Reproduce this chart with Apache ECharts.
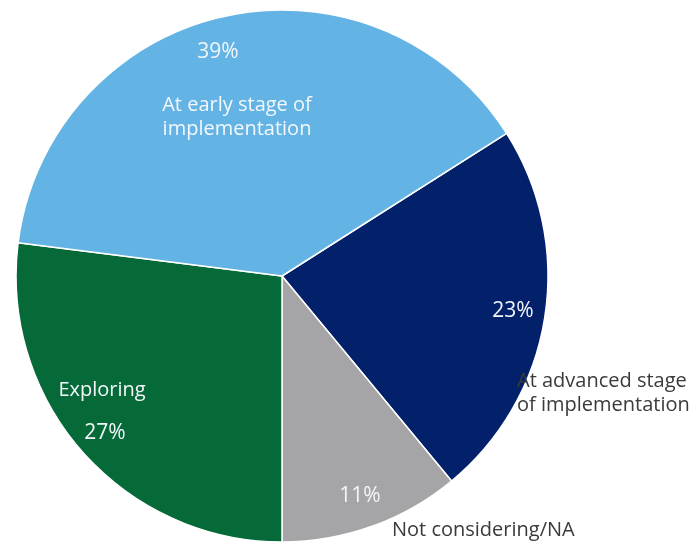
<!DOCTYPE html>
<html>
<head>
<meta charset="utf-8">
<script src="https://cdn.jsdelivr.net/npm/echarts@6/dist/echarts.min.js"></script>
<style>
html,body{margin:0;padding:0;background:#fff;}
#chart{width:698px;height:544px;}
</style>
</head>
<body>
<div id="chart"></div>
<script>
// Data
const categories = ["At advanced stage\nof implementation", "Not considering/NA", "Exploring", "At early stage of\nimplementation"];
const values = [23, 11, 27, 39];

// Styles / layout
const colors = ["#03216B", "#A5A5A7", "#056A37", "#63B4E4"];
const pctPos = [[513, 311], [360, 496], [105, 433], [218, 52]];
const namePos = [[517, 393, "left"], [392, 530, "left"], [102, 390, "center"], [237, 117, "center"]];
const nameColors = ["#3a3a3a", "#3a3a3a", "#f4f7fb", "#f4f7fb"];

const chart = echarts.init(document.getElementById('chart'));
const pieData = categories.map((c, i) => ({ name: c, value: values[i], itemStyle: { color: colors[i] } }));
const nameData = categories.map((c, i) => ({ name: c, value: values[i], label: { color: nameColors[i] } }));

chart.setOption({
  animation: false,
  series: [
    {
      type: 'pie',
      center: [282, 276],
      radius: 266,
      startAngle: 32.4,
      clockwise: true,
      data: pieData,
      itemStyle: { borderColor: '#ffffff', borderWidth: 1.5 },
      label: {
        show: true,
        position: 'inside',
        formatter: p => p.value + '%',
        color: '#f2f5fa',
        fontFamily: 'Open Sans',
        fontSize: 21
      },
      labelLine: { show: false },
      labelLayout: function (params) {
        const p = pctPos[params.dataIndex];
        return { x: p[0], y: p[1], align: 'center', verticalAlign: 'middle' };
      },
      emphasis: { disabled: true }
    },
    {
      type: 'pie',
      center: [282, 276],
      radius: 266,
      startAngle: 32.4,
      clockwise: true,
      silent: true,
      data: nameData,
      itemStyle: { color: 'rgba(0,0,0,0)', borderWidth: 0 },
      label: {
        show: true,
        position: 'inside',
        formatter: p => p.name,
        fontFamily: 'Open Sans',
        fontSize: 20,
        lineHeight: 24
      },
      labelLine: { show: false },
      labelLayout: function (params) {
        const p = namePos[params.dataIndex];
        return { x: p[0], y: p[1], align: p[2], verticalAlign: 'middle' };
      },
      emphasis: { disabled: true }
    }
  ]
});
</script>
</body>
</html>
